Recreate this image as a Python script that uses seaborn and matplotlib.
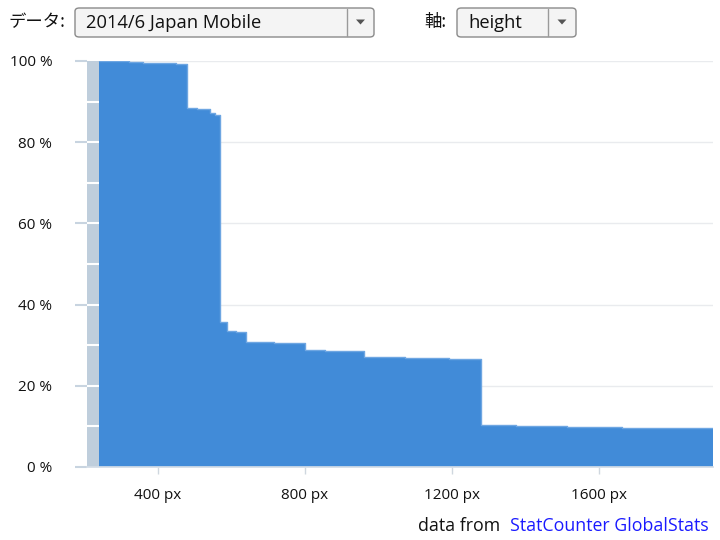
import matplotlib
matplotlib.use('Agg')
import matplotlib.pyplot as plt
import matplotlib.patches as mpatches
import seaborn as sns
import pandas as pd
import numpy as np

# 画面の高さ (px) の区切りと、その高さ以上の画面の割合 (%)
heights = [240, 320, 358, 449, 480, 505, 541, 555, 568, 588, 612, 640, 716,
           800, 854, 910, 960, 1073, 1193, 1280, 1375, 1514, 1546, 1662, 1765, 1910]
percent = [100, 99.7, 99.4, 99.2, 88.4, 88.1, 87.3, 86.8, 35.8, 33.6, 33.2,
           30.7, 30.5, 28.9, 28.6, 28.5, 27.0, 26.8, 26.7, 10.3, 10.2, 9.9,
           9.8, 9.7, 9.6]
band = [207, 240]
x_ticks = [400, 800, 1200, 1600]
y_ticks = [0, 20, 40, 60, 80, 100]
data_name = '2014/6 Japan Mobile'
axis_name = 'height'

BLUE = '#418bd8'

sns.set_theme(style='white')
plt.rcParams['font.family'] = ['Open Sans', 'Noto Sans CJK JP', 'DejaVu Sans']

W, H = 720, 540
fig = plt.figure(figsize=(7.2, 5.4), dpi=100)

def fx(x):
    return x / W

def fy(y):
    return 1 - y / H

ax = fig.add_axes([fx(87), fy(467), fx(713) - fx(87), fy(61) - fy(467)])

df = pd.DataFrame({'height': heights, 'percent': percent + [percent[-1]]})

# グレーの帯
ax.axvspan(band[0], band[1], color='#bfcedc', lw=0, zorder=1)
ax.hlines(np.arange(10, 100, 10), band[0], band[1], color='white', lw=1.5, zorder=1.5)

ax.fill_between(df['height'], df['percent'], step='post', color=BLUE, lw=0, zorder=2)
sns.lineplot(data=df, x='height', y='percent', drawstyle='steps-post',
             color='#6ea6e2', lw=1, ax=ax, zorder=3)

ax.set_xlim(band[0], 1910)
ax.set_ylim(0, 100)
ax.set_xticks(x_ticks)
ax.set_xticklabels([f'{v} px' for v in x_ticks])
ax.set_yticks(y_ticks)
ax.set_yticklabels([f'{v} %' for v in y_ticks])
ax.set_xlabel('')
ax.set_ylabel('')
ax.yaxis.grid(True, color='#e9ebee', lw=1)
ax.set_axisbelow(True)
for s in ['top', 'right', 'left']:
    ax.spines[s].set_visible(False)
ax.spines['bottom'].set_color('#d3dce6')
ax.tick_params(axis='y', left=True, length=9, width=1.5, color='#c8d4e0',
               pad=16, labelsize=11, labelcolor='#111111')
ax.tick_params(axis='x', bottom=True, length=5, width=1, color='#cfd7df',
               pad=10, labelsize=11, labelcolor='#111111')

# 上部のコントロール
def dropdown(x0, x1, div, text):
    box = mpatches.FancyBboxPatch((fx(x0), fy(37)), fx(x1) - fx(x0), fy(8) - fy(37),
                                  boxstyle='round,pad=0,rounding_size=0.006',
                                  transform=fig.transFigure, facecolor='#f4f4f4',
                                  edgecolor='#8a8a8a', lw=1)
    fig.patches.append(box)
    fig.add_artist(plt.Line2D([fx(div), fx(div)], [fy(9), fy(36)],
                              color='#9a9a9a', lw=1, transform=fig.transFigure))
    cx = (div + x1) / 2
    tri = mpatches.Polygon([(fx(cx - 4.5), fy(19.5)), (fx(cx + 4.5), fy(19.5)),
                            (fx(cx), fy(24.5))], closed=True,
                           transform=fig.transFigure, facecolor='#555555', lw=0)
    fig.patches.append(tri)
    fig.text(fx(x0 + 11), fy(23.5), text, fontsize=13.2, va='center', ha='left',
             color='#111111')

fig.text(fx(8), fy(22), 'データ:', fontsize=12.5, va='center', ha='left', color='#111111',
         family=['Noto Sans CJK JP', 'DejaVu Sans'])
dropdown(75, 374, 347, data_name)
fig.text(fx(424), fy(22), '軸:', fontsize=12.5, va='center', ha='left', color='#111111',
         family=['Noto Sans CJK JP', 'DejaVu Sans'])
dropdown(457, 576, 548, axis_name)

# 出典
fig.text(fx(500), fy(526), 'data from', fontsize=12.8, va='center', ha='right',
         color='#111111')
fig.text(fx(510), fy(526), 'StatCounter GlobalStats', fontsize=12.8, va='center',
         ha='left', color='#1a1aff')

fig.savefig('out.png', dpi=100)
